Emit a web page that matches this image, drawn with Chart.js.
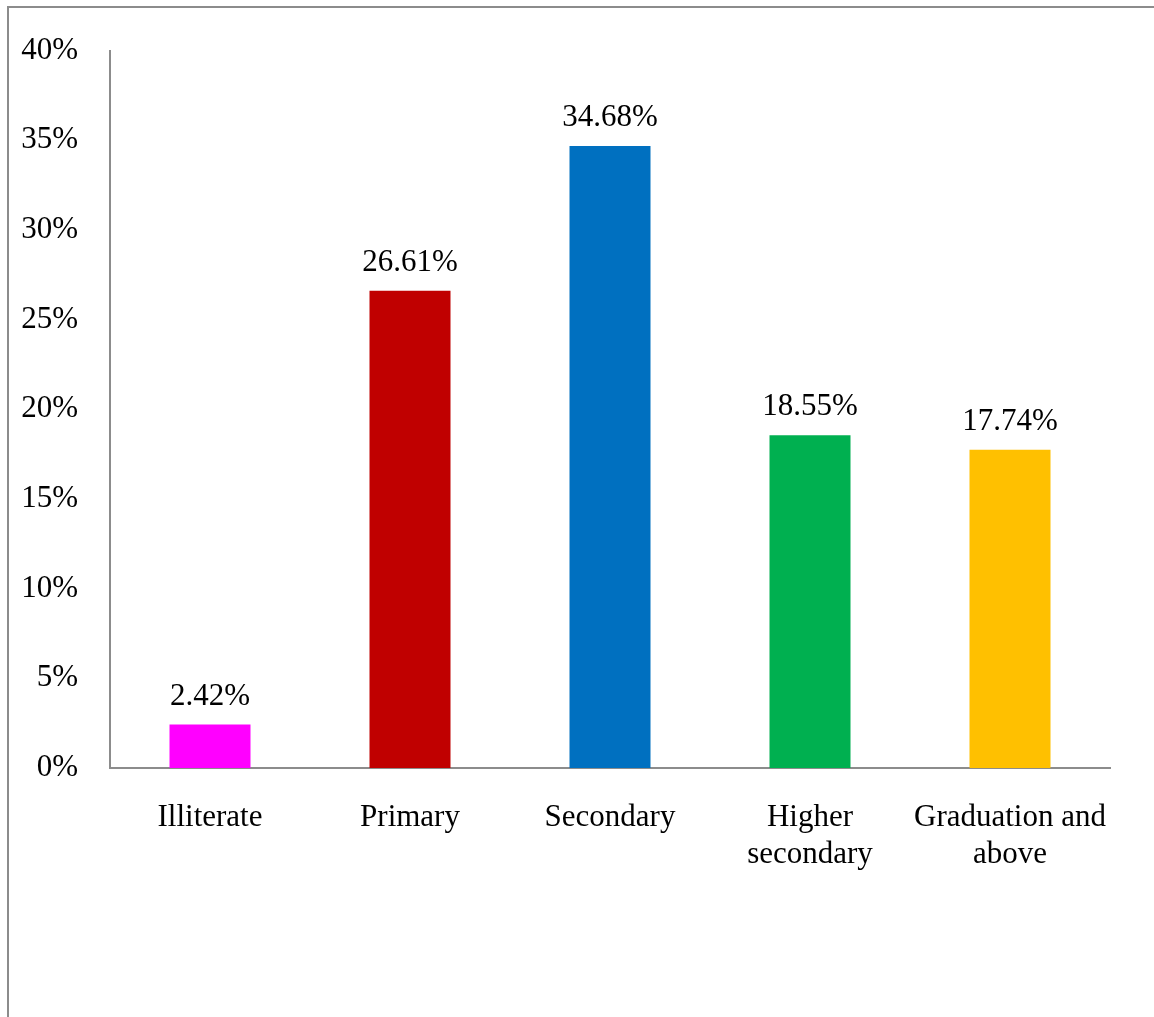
<!DOCTYPE html>
<html>
<head>
<meta charset="utf-8">
<script src="https://cdn.jsdelivr.net/npm/chart.js@4.4.0/dist/chart.umd.min.js"></script>
<style>
    html, body { margin: 0; padding: 0; overflow: hidden; background: #fff; }
    #wrap { position: relative; width: 1154px; height: 1017px; }
    #frame {
        position: absolute; left: 7px; top: 6px; width: 2000px; height: 2000px;
        border-left: 2px solid #8c8c8c; border-top: 2px solid #8c8c8c;
        pointer-events: none;
    }
</style>
</head>
<body>
<div id="wrap">
    <canvas id="myChart" width="1154" height="1017"></canvas>
    <div id="frame"></div>
</div>
<script>
    // education levels and their share (%)
    var levels = ["Illiterate", "Primary", "Secondary", ["Higher", "secondary"], ["Graduation and", "above"]];
    var shares = [2.42, 26.61, 34.68, 18.55, 17.74];
    var barColors = ["#FF00FF", "#C00000", "#0070C0", "#00B050", "#FFC000"];

    var serif = "'Liberation Serif', 'Times New Roman', serif";

    // writes the value above each bar
    var valueLabels = {
        id: 'valueLabels',
        afterDatasetsDraw: function(chart) {
            var ctx = chart.ctx;
            var meta = chart.getDatasetMeta(0);
            ctx.save();
            ctx.font = "31px " + serif;
            ctx.fillStyle = "#000";
            ctx.textAlign = "center";
            ctx.textBaseline = "alphabetic";
            meta.data.forEach(function(bar, i) {
                ctx.fillText(shares[i].toFixed(2) + "%", bar.x, bar.y - 20);
            });
            ctx.restore();
        }
    };

    var ctx = document.getElementById('myChart').getContext('2d');
    var chart = new Chart(ctx, {
        type: 'bar',
        data: {
            labels: levels,
            datasets: [{
                data: shares,
                backgroundColor: barColors,
                barPercentage: 0.405,
                categoryPercentage: 1
            }]
        },
        options: {
            responsive: false,
            animation: false,
            layout: { padding: { left: 0, top: 48, right: 44, bottom: 0 } },
            plugins: { legend: { display: false }, tooltip: { enabled: false } },
            scales: {
                x: {
                    grid: { display: false, drawTicks: false },
                    border: { display: true, color: "#8c8c8c", width: 2 },
                    ticks: {
                        color: "#000",
                        font: { family: serif, size: 31, lineHeight: 1.2 },
                        padding: 31,
                        maxRotation: 0,
                        autoSkip: false
                    },
                    afterFit: function(scale) { scale.height = 249; }
                },
                y: {
                    min: 0,
                    max: 40,
                    grid: { display: false, drawTicks: false },
                    border: { display: true, color: "#8c8c8c", width: 2 },
                    ticks: {
                        stepSize: 5,
                        color: "#000",
                        font: { family: serif, size: 31 },
                        padding: 32,
                        callback: function(v) { return v + "%"; }
                    },
                    afterFit: function(scale) { scale.width = 110; }
                }
            }
        },
        plugins: [valueLabels]
    });
</script>
</body>
</html>
